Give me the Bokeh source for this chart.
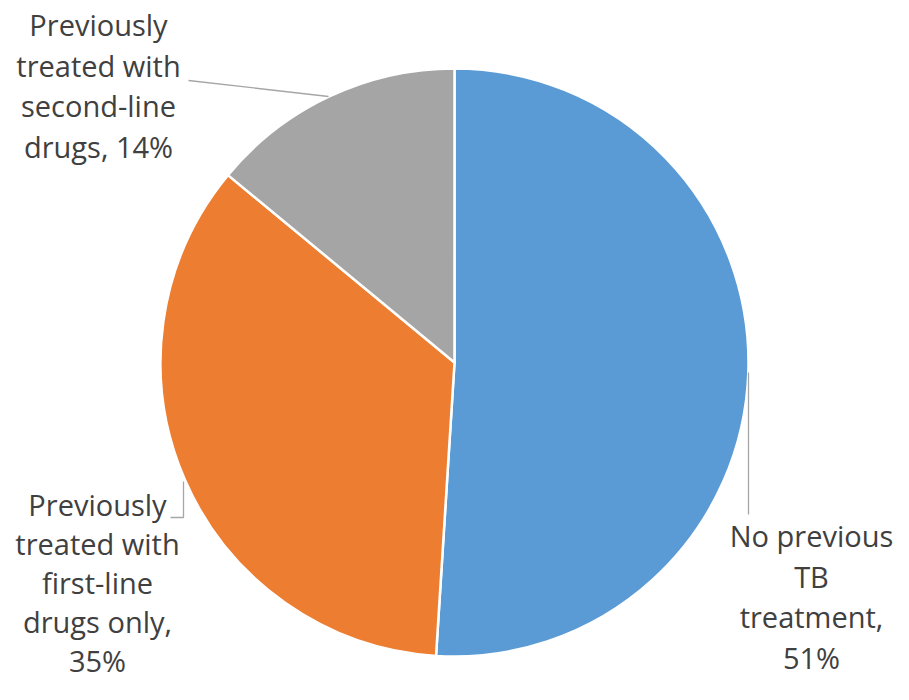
import math
from bokeh.plotting import figure
from bokeh.models import Range1d, ColumnDataSource
from bokeh.core.properties import value
from bokeh.embed import file_html
from bokeh.resources import INLINE

# ---- data ----
categories = ["No previous TB treatment", "Previously treated with first-line drugs only",
              "Previously treated with second-line drugs"]
shares = [51, 35, 14]
label_lines = [
    ["No previous", "TB", "treatment,", "51%"],
    ["Previously", "treated with", "first-line", "drugs only,", "35%"],
    ["Previously", "treated with", "second-line", "drugs, 14%"],
]
colors = ["#5B9BD5", "#ED7D31", "#A5A5A5"]

# ---- layout (figure pixel coordinates, y measured downward from top) ----
W, H = 893, 684
CX, CY, R = 454, 362, 294
label_centers_x = [811, 97, 98]
label_first_baseline = [547, 516, 36]
line_steps = [40.5, 39.0, 40.5]
text_shift = 12  # compensation for svg baseline placement
leaders = [
    ([748, 748], [372, 514]),
    ([183, 183, 170], [481, 517, 517]),
    ([328, 188], [96, 80]),
]

def fy(y):  # pixel y (downward) -> data y (upward)
    return H - y

p = figure(width=W, height=H, output_backend="svg", toolbar_location=None,
           x_range=Range1d(0, W), y_range=Range1d(0, H),
           min_border=0, outline_line_color=None)
p.axis.visible = False
p.grid.visible = False
p.background_fill_color = "white"
p.border_fill_color = "white"

total = float(sum(shares))
starts, ends = [], []
cum = 0.0
for s in shares:
    a0 = math.pi / 2 - 2 * math.pi * cum / total
    cum += s
    a1 = math.pi / 2 - 2 * math.pi * cum / total
    starts.append(a0)
    ends.append(a1)

src = ColumnDataSource(dict(start=starts, end=ends, color=colors, cat=categories, share=shares))
p.wedge(x=CX, y=fy(CY), radius=R, start_angle="start", end_angle="end",
        direction="clock", fill_color="color", line_color="white", line_width=2.5, source=src)

for xs, ys in leaders:
    p.line(xs, [fy(v) for v in ys], line_color="#A6A6A6", line_width=1.3)

tx, ty, tt = [], [], []
for i, lines in enumerate(label_lines):
    for j, t in enumerate(lines):
        tx.append(label_centers_x[i])
        ty.append(fy(label_first_baseline[i] + j * line_steps[i] - text_shift))
        tt.append(t)
p.text(x=tx, y=ty, text=tt, text_align="center", text_baseline="alphabetic",
       text_font=value("Open Sans"), text_font_size="29px", text_color="#404040")

open("out.html", "w").write(file_html(p, INLINE))
